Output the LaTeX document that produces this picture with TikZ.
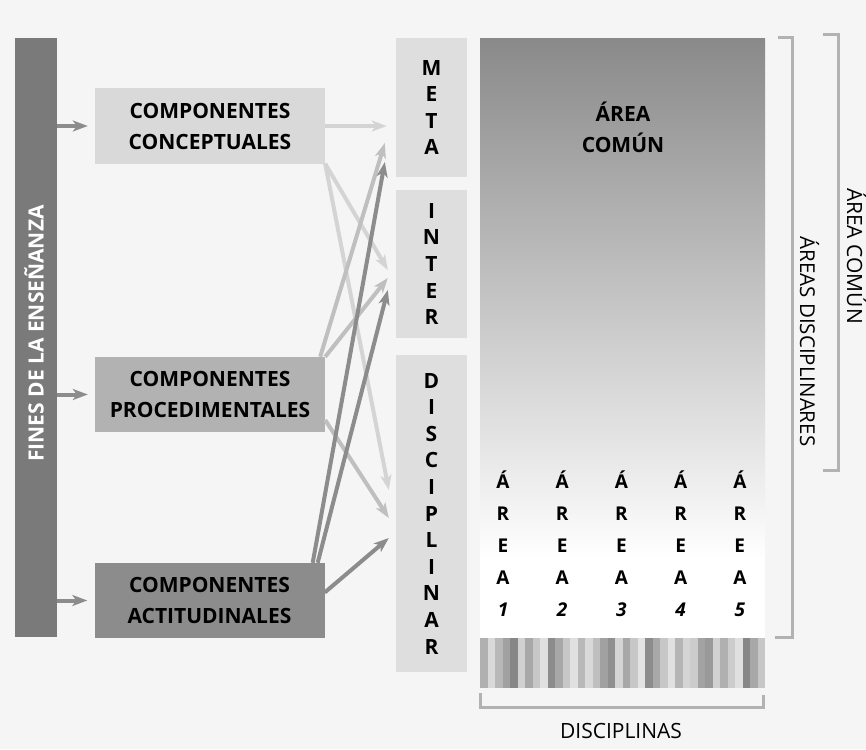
\documentclass[tikz,border=0pt]{standalone}
\usepackage{fontspec}
\setmainfont{Open Sans}
\usetikzlibrary{arrows.meta}

\begin{document}
\begin{tikzpicture}[x=1pt,y=-1pt,
        box/.style={minimum width=230pt,minimum height=75pt,align=center,inner sep=0pt,
            font=\fontsize{21}{31}\selectfont\bfseries},
        col/.style={fill=black!13,minimum width=71pt,align=center,inner sep=0pt,
            font=\fontsize{21}{26.6}\selectfont\bfseries},
        areafont/.style={align=center,inner sep=0pt,font=\fontsize{19}{32}\selectfont\bfseries},
        flecha/.style={line width=4pt,-{Stealth[length=15pt,width=11pt,inset=4pt]}},
        corchete/.style={draw=black!30,line width=3pt}]
    \useasboundingbox[fill=black!4] (0,0) rectangle (866,749);

    \node[fill=black!52,minimum width=42pt,minimum height=599pt] (fines) at (36,337.5) {};
    \node[rotate=90,anchor=base,white,font=\fontsize{21}{25}\selectfont\bfseries] (finestxt) at (43.5,333.5) {FINES DE LA ENSEÑANZA};

    \node[box,fill=black!15] (cc) at (210,126) {COMPONENTES\\CONCEPTUALES};
    \node[box,fill=black!30] (cp) at (210,394.5) {COMPONENTES\\PROCEDIMENTALES};
    \node[box,fill=black!45] (ca) at (209.5,600.5) {COMPONENTES\\ACTITUDINALES};

    \node[col,minimum height=139pt] (meta) at (431.5,107.5) {M\\E\\T\\A};
    \node[col,minimum height=148pt] (inter) at (431.5,264) {I\\N\\T\\E\\R};
    \node[col,minimum height=317pt] (dis) at (431.5,513.5) {D\\I\\S\\C\\I\\P\\L\\I\\N\\A\\R};

    \shade[top color=black!46,bottom color=white] (480,39) rectangle (765,560);
    \fill[white] (480,560) rectangle (765,638);
    \node[areafont,font=\fontsize{21}{31}\selectfont\bfseries] (comun) at (623,127.5) {ÁREA\\COMÚN};
    \foreach \n [count=\i from 0] in {1,...,5}
        \node[areafont] (area\n) at (503+\i*59.2,544) {Á\\R\\E\\A\\\textit{\n}};
    \foreach \g [count=\i from 0] in {31,15,28,37,47,18,34,22,12,45,34,22,12,28,15,25,37,44,17,
            34,22,11,45,34,22,12,29,17,20,36,40,18,31,20,12,47,34,22}
        \fill[black!\g] (480+\i*7.5,638) rectangle ++(7.5,50);

    \draw[corchete] (480,693) -- (480,707) -- (763,707) -- (763,695);
    \node[font=\fontsize{21}{25}\selectfont] (disciplinas) at (621,731) {DISCIPLINAS};
    \draw[corchete] (778,38) -- (792,38) -- (792,637) -- (775,637);
    \draw[corchete] (823,35) -- (838,35) -- (838,470) -- (823,470);
    \node[rotate=-90,anchor=base,font=\fontsize{20.5}{25}\selectfont] (areasdis) at (800,341.5) {ÁREAS DISCIPLINARES};
    \node[rotate=-90,anchor=base,font=\fontsize{21}{25}\selectfont] (areacom) at (847,256) {ÁREA COMÚN};

    \draw[flecha,black!45] (fines.east |- cc.west) -- ([xshift=-7pt]cc.west);
    \draw[flecha,black!45] (fines.east |- cp.west) -- ([xshift=-7pt]cp.west);
    \draw[flecha,black!45] (fines.east |- ca.west) -- ([xshift=-7pt]ca.west);

    \draw[flecha,black!17,shorten >=9pt] (cc.east) -- (cc.east -| meta.west);
    \draw[flecha,black!17] (cc.south east) -- ([xshift=-8pt,yshift=-6pt]inter.west);
    \draw[flecha,black!17] (cc.south east) -- ([xshift=-7pt,yshift=23.5pt]dis.west);
    \draw[flecha,black!25] ([xshift=-5pt]cp.north east) -- ([xshift=-11pt,yshift=-35.5pt]meta.west);
    \draw[flecha,black!25] (cp.north east) -- ([xshift=-8pt,yshift=-14pt]inter.west);
    \draw[flecha,black!25] ([yshift=-25.5pt]cp.east) -- ([xshift=-7pt,yshift=-4.5pt]dis.west);
    \draw[flecha,black!45] ([xshift=-12pt]ca.north east) -- ([xshift=-11pt,yshift=-54.5pt]meta.west);
    \draw[flecha,black!45] ([xshift=-7pt]ca.north east) -- ([xshift=-8pt,yshift=-26pt]inter.west);
    \draw[flecha,black!45] ([yshift=8pt]ca.east) -- ([xshift=-7pt,yshift=-24.5pt]dis.west);
\end{tikzpicture}
\end{document}
